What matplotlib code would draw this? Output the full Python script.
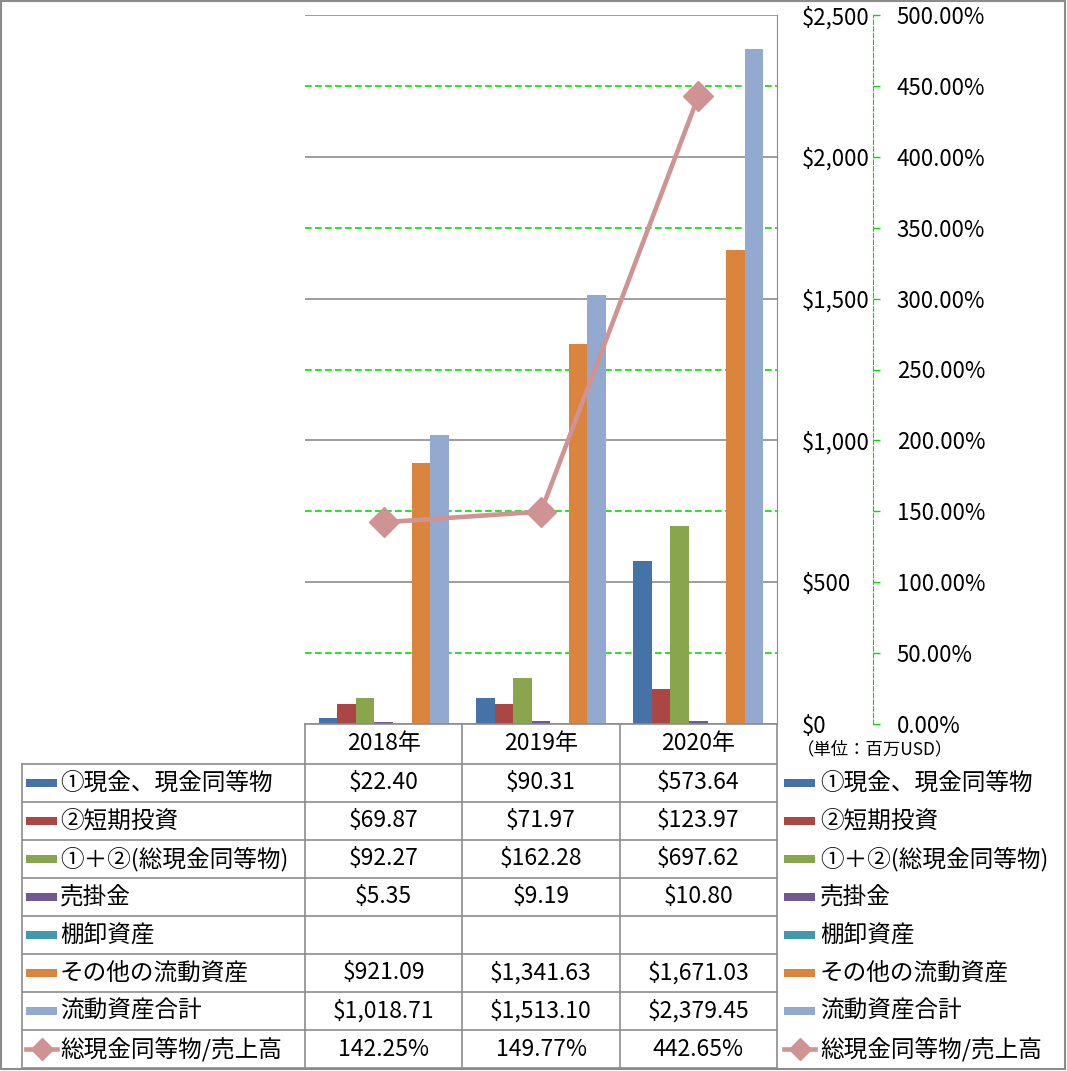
import numpy as np
import matplotlib
matplotlib.use('Agg')
import matplotlib.pyplot as plt
from matplotlib.lines import Line2D
from matplotlib.patches import Rectangle
from matplotlib.ticker import FuncFormatter

plt.rcParams['font.family'] = ['Noto Sans CJK JP', 'DejaVu Sans']

# data
years = ['2018年', '2019年', '2020年']
series_names = ['①現金、現金同等物', '②短期投資', '①＋②(総現金同等物)', '売掛金',
                '棚卸資産', 'その他の流動資産', '流動資産合計']
cash = [22.40, 90.31, 573.64]
short_inv = [69.87, 71.97, 123.97]
total_cash = [92.27, 162.28, 697.62]
receivables = [5.35, 9.19, 10.80]
inventory = [np.nan, np.nan, np.nan]
other_assets = [921.09, 1341.63, 1671.03]
current_assets = [1018.71, 1513.10, 2379.45]
ratio_name = '総現金同等物/売上高'
ratio = [142.25, 149.77, 442.65]

series = [cash, short_inv, total_cash, receivables, inventory, other_assets, current_assets]
colors = ['#4572A7', '#AA4643', '#89A54E', '#71588F', '#4198AF', '#DB843D', '#93A9CF']
line_color = '#D09393'
grid_gray = '#8C8C8C'
fs = 17
fs_num = 16.5

W, H = 1067, 1071
fig = plt.figure(figsize=(W / 100, H / 100), dpi=100)


def fx(x):
    return x / W


def fy(y):
    return 1 - y / H


left, right, top, bottom = 305, 777, 15, 724
ax = fig.add_axes([fx(left), fy(bottom), (right - left) / W, (bottom - top) / H])

x = np.arange(len(years))
w = 0.118
for i, (vals, c) in enumerate(zip(series, colors)):
    ax.bar(x + (i - 3) * w, vals, w, color=c, zorder=3)

ax.set_xlim(-0.5, 2.5)
ax.set_ylim(0, 2500)
ax.set_xticks([])
for s in ['left', 'top', 'bottom']:
    ax.spines[s].set_visible(False)
ax.spines['right'].set_color(grid_gray)
ax.yaxis.grid(True, color=grid_gray, lw=1.2, zorder=1)
ax.set_axisbelow(True)

# secondary axis
ax2 = ax.twinx()
ax2.set_ylim(0, 500)
ax2.set_yticks(np.arange(0, 501, 50))
ax2.yaxis.set_major_formatter(FuncFormatter(lambda v, p: '{:.2f}%'.format(v)))
for s in ['left', 'top', 'bottom']:
    ax2.spines[s].set_visible(False)
ax2.spines['right'].set_position(('outward', 96 * 0.72))
ax2.spines['right'].set_color('#00E000')
ax2.spines['right'].set_linestyle((0, (4, 2)))
ax2.tick_params(axis='y', length=5, width=1, color='#00E000', pad=12, labelsize=16)

# primary ticks on the right (after twinx, which resets them)
ax.yaxis.tick_right()
ax.set_yticks(np.arange(0, 2501, 500))
ax.yaxis.set_major_formatter(FuncFormatter(lambda v, p: '${:,.0f}'.format(v)))
ax.tick_params(axis='y', which='both', left=False, right=True, labelleft=False,
               labelright=True, length=0, pad=18, labelsize=16)

# green dashed secondary gridlines (behind the bars, drawn on primary axis scale)
for g in np.arange(50, 500, 100):
    ax.axhline(g * 5, color='#00E000', lw=1.2, ls=(0, (4, 2)), zorder=1)

ax2.plot(x, ratio, color=line_color, lw=3.3, marker='D', ms=15,
         markeredgecolor=line_color, markerfacecolor=line_color, zorder=4)

fig.text(fx(797), fy(749), '（単位：百万USD）', fontsize=12.5, va='center', ha='left')

# data table
col_w = (right - left) / 3
row_h = 38
rows_top = 764
n_rows = 8


def hline(y, x0, x1):
    fig.add_artist(Line2D([fx(x0), fx(x1)], [fy(y), fy(y)], color=grid_gray, lw=1.2))


def vline(xp, y0, y1):
    fig.add_artist(Line2D([fx(xp), fx(xp)], [fy(y0), fy(y1)], color=grid_gray, lw=1.2))


hline(bottom, left, right)
for r in range(n_rows + 1):
    hline(rows_top + r * row_h, 22, right)
for c in range(4):
    vline(left + c * col_w, bottom, rows_top + n_rows * row_h)
vline(22, rows_top, rows_top + n_rows * row_h)

# outer border
fig.add_artist(Rectangle((fx(1), fy(1069)), fx(1064), (1068) / H, fill=False,
                         edgecolor=grid_gray, lw=1.5))

for c, yr in enumerate(years):
    fig.text(fx(left + (c + 0.5) * col_w), fy(744), yr, fontsize=fs_num, ha='center', va='center')


def money(v):
    return '' if np.isnan(v) else '${:,.2f}'.format(v)


table_rows = [[money(v) for v in s] for s in series] + [['{:.2f}%'.format(v) for v in ratio]]
names = series_names + [ratio_name]

for r in range(n_rows):
    yc = rows_top + r * row_h + row_h / 2
    for c in range(3):
        fig.text(fx(left + (c + 0.5) * col_w), fy(yc), table_rows[r][c], fontsize=fs_num,
                 ha='center', va='center')
    for kx, tx in [(26, 60), (784, 820)]:
        if r < 7:
            fig.add_artist(Rectangle((fx(kx), fy(yc + 4)), 31 / W, 8 / H,
                                     facecolor=colors[r], edgecolor='none'))
        else:
            fig.add_artist(Line2D([fx(kx), fx(kx + 31)], [fy(yc), fy(yc)], color=line_color,
                                  lw=3.3))
            fig.add_artist(Line2D([fx(kx + 15.5)], [fy(yc)], color=line_color, marker='D',
                                  ms=11))
        fig.text(fx(tx), fy(yc), names[r], fontsize=fs, ha='left', va='center')

fig.savefig('out.png', dpi=100)
